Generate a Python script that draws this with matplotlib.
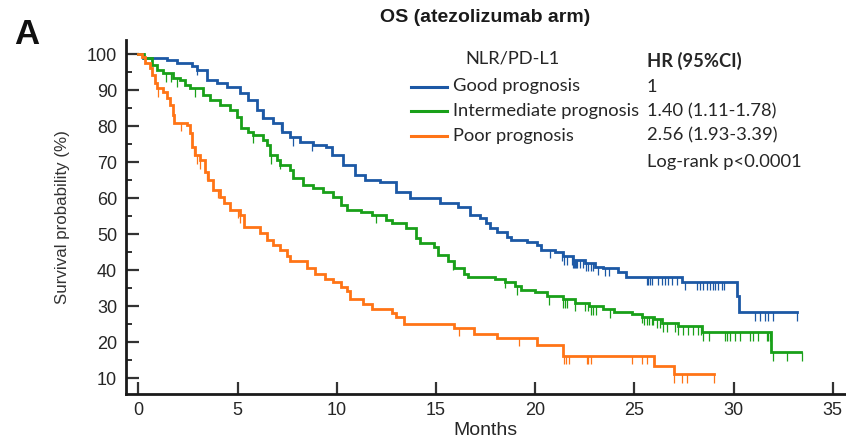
import numpy as np
import matplotlib
matplotlib.use("Agg")
import matplotlib.pyplot as plt

# Kaplan-Meier step data (months, survival %)
good_t = [0, 0.25, 1.45, 1.95, 2.7, 2.95, 3.45, 3.95, 4.45, 5.1, 5.5, 6.0, 6.3, 6.8, 7.25, 7.65,
          8.15, 8.8, 9.45, 9.75, 10.3, 10.9, 11.4, 12.2, 13.0, 13.7, 15.2, 16.1, 16.7, 17.2, 17.5,
          17.7, 18.1, 18.6, 18.8, 19.6, 20.1, 20.3, 21.0, 21.4, 21.9, 22.5, 23.0, 23.4, 24.2, 24.6,
          27.4, 30.2, 30.3, 33.2]
good_s = [100, 99.0, 98.3, 97.4, 96.7, 95.6, 92.8, 92.0, 90.9, 89.1, 87.3, 84.5, 82.3, 80.9, 78.4, 77.0,
          75.6, 74.8, 74.2, 72.0, 69.3, 66.5, 65.1, 64.5, 61.8, 60.1, 58.7, 57.6, 55.4, 54.6, 53.2,
          51.8, 50.7, 49.3, 48.5, 47.9, 47.1, 45.7, 44.9, 43.8, 42.9, 42.1, 41.0, 40.7, 39.6, 38.2,
          36.8, 32.7, 28.3, 28.3]
good_cens = [2.94, 6.23, 7.2, 7.8, 8.75, 20.75, 21.34, 21.46, 21.59, 21.85, 21.9, 21.95, 22.0, 22.05,
             22.1, 22.26, 22.43, 22.55, 22.68, 22.8, 22.93, 23.19, 23.52, 23.72, 25.62, 25.71, 25.79,
             25.91, 26.21, 26.38, 26.55, 26.72, 26.88, 27.13, 27.55, 28.14, 28.31, 28.48, 28.64, 28.81,
             28.98, 29.06, 29.23, 29.4, 29.51, 31.08, 31.34, 31.59, 31.76, 31.98, 33.18]

inter_t = [0, 0.3, 0.7, 0.95, 1.25, 1.75, 2.1, 2.35, 2.6, 3.25, 3.6, 4.1, 4.6, 4.95, 5.15, 5.5, 5.8,
           6.3, 6.5, 6.65, 7.0, 7.15, 7.65, 7.8, 8.3, 8.8, 9.3, 9.8, 10.2, 10.5, 11.2, 11.8, 12.5, 12.8,
           13.5, 14.0, 14.2, 14.9, 15.1, 15.6, 15.9, 16.4, 16.6, 18.0, 18.5, 19.0, 19.3, 20.0, 20.6,
           21.4, 22.0, 22.7, 23.4, 24.0, 24.9, 25.4, 26.0, 26.4, 27.2, 28.4, 31.9, 33.4]
inter_s = [100, 98.9, 97.0, 95.6, 94.7, 93.3, 92.8, 91.4, 90.6, 88.6, 87.3, 85.9, 84.5, 82.6, 79.5, 78.4, 77.6,
           76.2, 74.8, 72.0, 70.6, 69.3, 67.9, 65.7, 63.7, 62.9, 61.8, 60.4, 58.2, 56.8, 56.0, 55.4, 54.0, 53.2,
           51.8, 49.0, 47.6, 46.3, 44.3, 42.4, 40.7, 38.8, 38.0, 37.4, 36.6, 35.5, 34.6, 33.8, 32.7,
           31.9, 31.0, 30.0, 29.1, 28.5, 27.7, 27.1, 26.3, 25.2, 24.4, 22.7, 17.2, 17.2]
inter_cens = [1.38, 1.65, 1.93, 2.86, 5.8, 6.67, 7.14, 11.98, 15.85, 18.48, 19.07, 20.72, 21.42, 21.5,
              21.59, 22.01, 22.51, 22.68, 22.8, 22.93, 23.05, 23.77, 25.37, 25.49, 25.62, 25.74, 25.87,
              25.96, 26.16, 26.3, 26.46, 26.63, 27.05, 27.22, 27.47, 27.72, 27.97, 28.23, 28.36, 28.45,
              28.78, 29.57, 29.69, 29.82, 30.07, 30.33, 30.83, 31.0, 31.25, 31.67, 31.75, 31.84, 32.0,
              32.68, 33.44]

poor_t = [0, 0.2, 0.35, 0.6, 0.7, 0.85, 0.95, 1.25, 1.45, 1.6, 1.75, 1.8, 2.45, 2.6, 2.7, 2.85, 3.1,
          3.35, 3.5, 3.75, 4.1, 4.3, 4.6, 5.1, 5.3, 6.15, 6.5, 6.8, 7.15, 7.5, 7.65, 8.5, 8.9, 9.4,
          9.8, 10.2, 10.5, 10.65, 11.3, 11.8, 12.8, 13.0, 13.4, 15.9, 16.9, 18.1, 20.1, 21.4, 26.0,
          27.0, 29.0]
poor_s = [100, 99.2, 97.5, 96.1, 94.2, 91.9, 90.6, 89.5, 87.8, 85.9, 83.1, 80.9, 80.3, 78.1, 74.2, 72.0, 70.6,
          67.3, 65.1, 62.3, 60.4, 58.7, 56.8, 55.4, 52.1, 50.4, 48.5, 47.1, 45.7, 43.8, 42.4, 40.7, 39.0, 37.6,
          36.6, 35.2, 34.1, 31.9, 30.5, 29.1, 28.0, 27.1, 25.0, 24.0, 22.2, 21.2, 19.1, 16.2, 13.4,
          11.1, 11.1]
poor_cens = [1.0, 2.15, 2.8, 2.94, 3.1, 3.45, 4.0, 5.03, 5.13, 16.18, 19.2, 21.46, 21.54, 21.71, 22.6,
             22.68, 22.8, 24.87, 25.37, 25.62, 27.0, 27.39, 27.64, 29.02]

groups = ["Good prognosis", "Intermediate prognosis", "Poor prognosis"]
hr_text = ["1", "1.40 (1.11-1.78)", "2.56 (1.93-3.39)"]
colors = ["#1c58a5", "#19a019", "#ff7416"]

x_ticks = [0, 5, 10, 15, 20, 25, 30, 35]
y_ticks = [10, 20, 30, 40, 50, 60, 70, 80, 90, 100]
y_minor = [15, 25, 35, 45, 55, 65, 75, 85, 95]


def surv_at(times, surv, t):
    i = np.searchsorted(times, t, side="right") - 1
    return np.asarray(surv)[i]


def draw_curve(ax, times, surv, cens, colour):
    ax.step(times, surv, where="post", color=colour, lw=2.0, solid_joinstyle="miter")
    ys = surv_at(times, surv, cens)
    ax.vlines(cens, ys - 2.4, ys, color=colour, lw=0.9)


fig = plt.figure(figsize=(8.46, 4.43), dpi=100)
ax = fig.add_axes([125.5 / 846, 49 / 443, 1 - 125.5 / 846, 354 / 443])

draw_curve(ax, good_t, good_s, good_cens, colors[0])
draw_curve(ax, inter_t, inter_s, inter_cens, colors[1])
draw_curve(ax, poor_t, poor_s, poor_cens, colors[2])

ax.set_xlim(-0.65, 35.67)
ax.set_ylim(5.6, 103.9)
ax.set_xticks(x_ticks)
ax.set_yticks(y_ticks)
ax.set_yticks(y_minor, minor=True)

for side in ["top", "right"]:
    ax.spines[side].set_visible(False)
for side in ["left", "bottom"]:
    ax.spines[side].set_linewidth(2.0)
    ax.spines[side].set_color("#1a1a1a")

ax.tick_params(axis="both", which="major", direction="in", length=9, width=1.6, color="#333333",
               labelcolor="#262626", pad=6)
ax.tick_params(axis="y", which="minor", direction="in", length=4.5, width=1.4, color="#333333")
for lab in ax.get_xticklabels() + ax.get_yticklabels():
    lab.set_fontfamily("Liberation Sans")
    lab.set_fontsize(13)

ax.set_xlabel("Months", fontfamily="Liberation Sans", fontsize=14, color="#262626", labelpad=2)
ax.set_ylabel("Survival probability (%)", fontfamily="Liberation Sans", fontsize=12.2, color="#333333",
              labelpad=12)

fig.text(485 / 846, 1 - 18 / 443, "OS (atezolizumab arm)", ha="center", va="center",
         fontfamily="Liberation Sans", fontweight="bold", fontsize=14, color="#1a1a1a")
fig.text(14 / 846, 1 - 34 / 443, "A", ha="left", va="center",
         fontfamily="Liberation Sans", fontweight="bold", fontsize=25, color="#111111")

# legend block with hazard ratios
leg_font = "Lato"
leg_size = 13.2
row_y = [86.5, 111, 135.5]
fig.text(465 / 846, 1 - 58 / 443, "NLR/PD-L1", ha="left", va="center", fontfamily=leg_font,
         fontsize=leg_size, color="#262626")
fig.text(647 / 846, 1 - 61 / 443, "HR (95%CI)", ha="left", va="center", fontfamily=leg_font,
         fontweight="bold", fontsize=leg_size, color="#262626")
for name, hr, colour, yy in zip(groups, hr_text, colors, row_y):
    fy = 1 - yy / 443
    fig.add_artist(plt.Line2D([411 / 846, 447 / 846], [fy, fy], color=colour, lw=2.2))
    fig.text(453 / 846, fy, name, ha="left", va="center", fontfamily=leg_font, fontsize=leg_size,
             color="#262626")
    fig.text(647 / 846, fy, hr, ha="left", va="center", fontfamily=leg_font, fontsize=leg_size,
             color="#262626")
fig.text(647 / 846, 1 - 162 / 443, "Log-rank p<0.0001", ha="left", va="center", fontfamily=leg_font,
         fontsize=leg_size, color="#262626")

fig.savefig("out.png", dpi=100, facecolor="white")
